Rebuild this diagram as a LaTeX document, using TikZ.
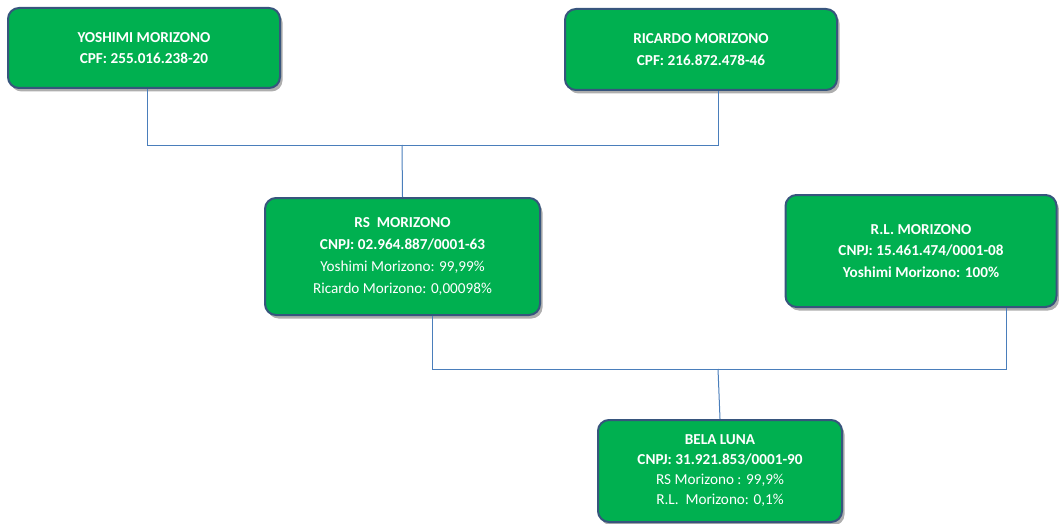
\documentclass[tikz,border=0pt]{standalone}
\usepackage{fontspec}
\setmainfont{Carlito}
\usetikzlibrary{shadows,calc}
\definecolor{boxgreen}{RGB}{0,176,80}
\definecolor{boxedge}{RGB}{55,85,125}
\definecolor{linkblue}{RGB}{74,126,187}
\tikzset{
  entity/.style={draw=boxedge, line width=2pt, fill=boxgreen, rounded corners=11pt,
    text=white, align=center, inner sep=2pt,
    font=\fontsize{15.2}{21.7}\selectfont,
    drop shadow={shadow xshift=2.5pt, shadow yshift=-3.5pt, opacity=0.45, fill=black!70}},
  link/.style={draw=linkblue, line width=1pt}
}
\begin{document}
\begin{tikzpicture}[x=1pt,y=1pt]
\useasboundingbox (0,0) rectangle (1059,-524);
\node[entity, minimum width=272pt, minimum height=80pt] (yosh) at (144,-48)
  {\textbf{YOSHIMI MORIZONO}\\\textbf{CPF: 255.016.238-20}};
\node[entity, minimum width=272pt, minimum height=81pt] (ric) at (701,-49.5)
  {\textbf{RICARDO MORIZONO}\\\textbf{CPF: 216.872.478-46}};
\node[entity, minimum width=275pt, minimum height=117pt] (rs) at (402.5,-256.5)
  {\textbf{RS\ \ MORIZONO}\\\textbf{CNPJ: 02.964.887/0001-63}\\Yoshimi Morizono: 99,99\%\\Ricardo Morizono: 0,00098\%};
\node[entity, minimum width=271pt, minimum height=112pt] (rl) at (921,-251)
  {\textbf{R.L. MORIZONO}\\\textbf{CNPJ: 15.461.474/0001-08}\\\textbf{Yoshimi Morizono: 100\%}};
\node[entity, minimum width=244pt, minimum height=102pt,
  font=\fontsize{15.2}{20}\selectfont] (bela) at (720,-471)
  {\textbf{BELA LUNA}\\\textbf{CNPJ: 31.921.853/0001-90}\\RS Morizono : 99,9\%\\R.L.\ \ Morizono: 0,1\%};
\coordinate (j1) at (402,-145);
\coordinate (j2) at (718,-369);
\draw[link] ([xshift=3pt]yosh.south) -- ([xshift=3pt]yosh.south |- j1)
  -- ([xshift=17pt]ric.south |- j1) -- ([xshift=17pt]ric.south);
\draw[link] (j1) -- (rs.north);
\draw[link] ([xshift=30pt]rs.south) -- ([xshift=30pt]rs.south |- j2)
  -- ([xshift=85pt]rl.south |- j2) -- ([xshift=85pt]rl.south);
\draw[link] (j2) -- (bela.north);
\end{tikzpicture}
\end{document}
